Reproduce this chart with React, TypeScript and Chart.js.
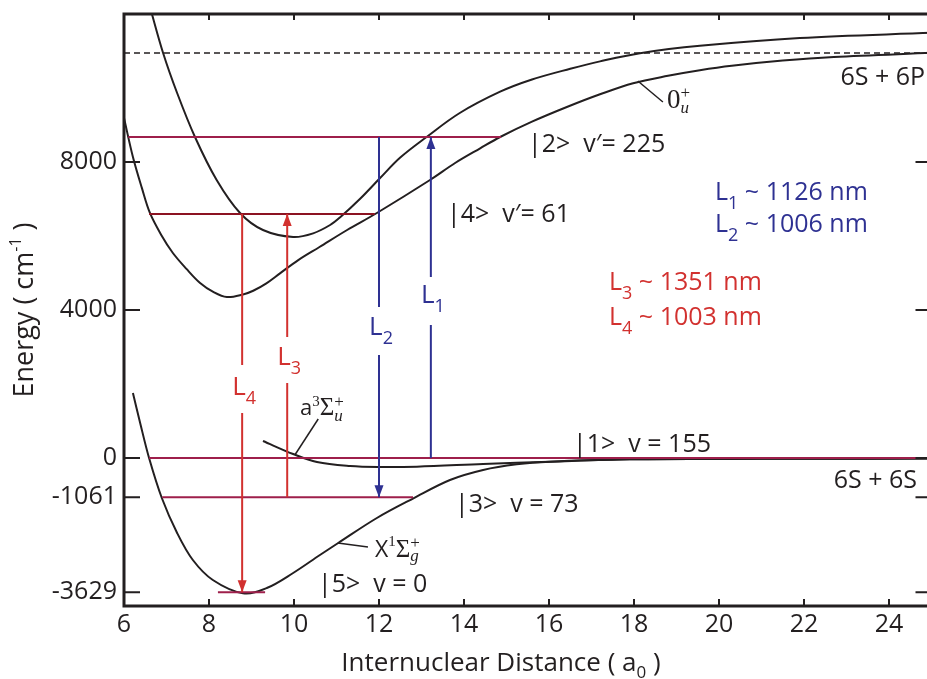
import React, { useEffect, useRef } from "react";
import { Chart, registerables } from "chart.js";

Chart.register(...registerables);

// ---------------- data ----------------
const X_TICKS = [6, 8, 10, 12, 14, 16, 18, 20, 22, 24];
const Y_TICKS = [-3629, -1061, 0, 4000, 8000];
const R_MIN = 6;
const R_MAX = 25;
const E_MIN = -4000;
const E_MAX = 12000;

// X¹Σg+ ground state
const X_STATE_R = [6.21, 6.38, 6.59, 6.89, 7.25, 7.62, 8.09, 8.8, 9.36, 9.98, 10.61, 11.04, 11.95, 12.81, 13.67, 14.45, 15.24, 16.02, 17.9, 20, 22, 25];
const X_STATE_E = [1757, 946, 0, -1081, -2027, -2757, -3297, -3655, -3514, -3108, -2622, -2297, -1622, -1090, -595, -324, -171, -99, -35, -25, -20, -15];

// a³Σu+ state
const A_STATE_R = [9.27, 9.98, 10.54, 11.32, 11.98, 12.89, 14.45, 16.02, 17.9, 20, 22, 25];
const A_STATE_E = [459, 108, -108, -216, -243, -234, -162, -99, -35, -25, -20, -15];

// 0u+ state
const ZERO_U_R = [6.0, 6.21, 6.42, 6.61, 6.88, 7.15, 7.47, 7.79, 8.1, 8.42, 8.8, 9.04, 9.35, 9.67, 10.1, 10.6, 11.25, 11.95, 13.2, 13.8, 14.38, 14.85, 15.6, 16.42, 17.2, 17.98, 18.8, 19.55, 20.3, 21.5, 22.7, 25];
const ZERO_U_E = [9190, 8135, 7300, 6622, 6020, 5540, 5110, 4730, 4490, 4351, 4420, 4520, 4720, 4990, 5350, 5703, 6162, 6622, 7514, 7980, 8370, 8676, 9090, 9486, 9830, 10130, 10330, 10480, 10600, 10740, 10838, 10950];

// upper excited state
const UPPER_R = [6.62, 6.92, 7.25, 7.67, 8.18, 8.73, 9.27, 9.98, 10.45, 10.85, 11.08, 11.55, 12.02, 12.5, 13.12, 13.9, 14.85, 15.6, 16.5, 17.2, 18.14, 19.55, 21.9, 25];
const UPPER_E = [12150, 10946, 9865, 8676, 7514, 6622, 6162, 5973, 6072, 6297, 6500, 7000, 7560, 8120, 8676, 9324, 9900, 10230, 10520, 10720, 10940, 11140, 11351, 11490];

// 6S + 6P asymptote
const ASYMPTOTE_E = 10946;

// vibrational levels
const LEVEL_KETS = ["|2>", "|4>", "|1>", "|3>", "|5>"];
const LEVEL_VIB = ["v′= 225", "v′= 61", "v = 155", "v = 73", "v = 0"];
const LEVEL_E = [8676, 6595, 0, -1061, -3629];
const LEVEL_R_START = [6.1, 6.59, 6.59, 6.9, 8.21];
const LEVEL_R_END = [14.87, 11.9, 25, 12.8, 9.32];

// laser transitions
const LASER_NAMES = ["1", "2", "3", "4"];
const LASER_NM = [1126, 1006, 1351, 1003];
const LASER_R = [13.22, 12.0, 9.84, 8.78];
const LASER_FROM = [0, 8676, -1061, 6595];
const LASER_TO = [8676, -1061, 6595, -3629];
const LASER_GAP_LOW = [3595, 2784, 2027, 1216];
const LASER_GAP_HIGH = [4892, 4081, 3270, 2514];

// ---------------- label placement (data coordinates) ----------------
const LEVEL_LABEL_R = [15.506, 13.6, 16.565, 13.788, 10.565];
const LEVEL_LABEL_E = [8270, 6378, 162, -1459, -3622];
const LASER_LABEL_E = [4189, 3324, 2514, 1703];
const NM_LABEL_R = [19.906, 19.906, 17.412, 17.412];
const NM_LABEL_E = [6973, 6108, 4541, 3595];

// leader lines for state names: [r0, e0, r1, e1]
const LEADER_A = [10.02, 81, 10.57, 1054];
const LEADER_X = [11.03, -2297, 11.74, -2405];
const LEADER_0U = [18.09, 10190, 18.68, 9622];

// ---------------- styles ----------------
const BLACK = "#231f20";
const BLUE = "#2e3192";
const RED = "#d2312f";
const LEVEL_COLORS = ["#9e1f4b", "#8c1322", "#9e1f4b", "#9e1f4b", "#9e1f4b"];
const LASER_COLORS = [BLUE, BLUE, RED, RED];
const SANS = "'Open Sans', 'Noto Sans', sans-serif";
const SERIF = "'Liberation Serif', 'DejaVu Serif', serif";

const pts = (rs: number[], es: number[]) => rs.map((r, i) => ({ x: r, y: es[i] }));

type Run = { t?: string; f: string; dy?: number; sup?: string; sub?: string; sf?: string; supDy?: number; subDy?: number };

function drawRich(ctx: CanvasRenderingContext2D, x: number, y: number, runs: Run[], align: "left" | "center" | "right", color: string) {
  const widths = runs.map((r) => {
    if (r.sup !== undefined || r.sub !== undefined) {
      ctx.font = r.sf || r.f;
      const a = r.sup ? ctx.measureText(r.sup).width : 0;
      ctx.font = r.f;
      const b = r.sub ? ctx.measureText(r.sub).width : 0;
      return Math.max(a, b);
    }
    ctx.font = r.f;
    return ctx.measureText(r.t || "").width;
  });
  const total = widths.reduce((s, w) => s + w, 0);
  let cx = align === "left" ? x : align === "center" ? x - total / 2 : x - total;
  ctx.fillStyle = color;
  ctx.textAlign = "left";
  ctx.textBaseline = "alphabetic";
  runs.forEach((r, i) => {
    if (r.sup !== undefined || r.sub !== undefined) {
      if (r.sup) {
        ctx.font = r.sf || r.f;
        ctx.fillText(r.sup, cx, y + (r.supDy ?? -9));
      }
      if (r.sub) {
        ctx.font = r.f;
        ctx.fillText(r.sub, cx, y + (r.subDy ?? 7));
      }
    } else {
      ctx.font = r.f;
      ctx.fillText(r.t || "", cx, y + (r.dy || 0));
    }
    cx += widths[i];
  });
}

const overlayPlugin = {
  id: "overlay",
  afterDatasetsDraw(chart: any) {
    const { ctx, chartArea: ca } = chart;
    const xs = chart.scales.x;
    const ys = chart.scales.y;
    const px = (v: number) => xs.getPixelForValue(v);
    const py = (v: number) => ys.getPixelForValue(v);
    ctx.save();

    // arrowheads
    LASER_R.forEach((r, i) => {
      const tx = px(r);
      const ty = py(LASER_TO[i]);
      const dir = LASER_TO[i] > LASER_FROM[i] ? 1 : -1;
      const len = 12;
      const hw = 4.5;
      ctx.fillStyle = LASER_COLORS[i];
      ctx.beginPath();
      ctx.moveTo(tx, ty);
      ctx.lineTo(tx - hw, ty + dir * len);
      ctx.lineTo(tx + hw, ty + dir * len);
      ctx.closePath();
      ctx.fill();
    });

    // frame
    ctx.strokeStyle = BLACK;
    ctx.lineWidth = 3;
    ctx.strokeRect(ca.left, ca.top, ca.right - ca.left, ca.bottom - ca.top);

    // inward ticks
    ctx.lineWidth = 2;
    ctx.beginPath();
    X_TICKS.forEach((v) => {
      const x = px(v);
      ctx.moveTo(x, ca.bottom);
      ctx.lineTo(x, ca.bottom - 7);
      ctx.moveTo(x, ca.top);
      ctx.lineTo(x, ca.top + 6);
    });
    Y_TICKS.forEach((v) => {
      const y = py(v);
      ctx.moveTo(ca.left, y);
      ctx.lineTo(ca.left + 16, y);
      ctx.moveTo(ca.right, y);
      ctx.lineTo(ca.right - 16, y);
    });
    ctx.stroke();

    const F = (s: number, fam = SANS, style = "") => `${style}${s}px ${fam}`;

    // level labels
    LEVEL_KETS.forEach((k, i) => {
      drawRich(ctx, px(LEVEL_LABEL_R[i]), py(LEVEL_LABEL_E[i]), [{ t: `${k}  ${LEVEL_VIB[i]}`, f: F(25) }], "left", BLACK);
    });

    // asymptote labels
    drawRich(ctx, px(24.847), py(10081), [{ t: "6S + 6P", f: F(25) }], "right", BLACK);
    drawRich(ctx, px(24.659), py(-811), [{ t: "6S + 6S", f: F(25) }], "right", BLACK);

    // laser labels on arrows
    LASER_NAMES.forEach((n, i) => {
      drawRich(ctx, px(LASER_R[i]) + 2, py(LASER_LABEL_E[i]), [{ t: "L", f: F(26) }, { t: n, f: F(18), dy: 9 }], "center", LASER_COLORS[i]);
    });

    // wavelength legend
    LASER_NAMES.forEach((n, i) => {
      drawRich(ctx, px(NM_LABEL_R[i]), py(NM_LABEL_E[i]), [
        { t: "L", f: F(25) },
        { t: n, f: F(18), dy: 9 },
        { t: ` ~ ${LASER_NM[i]} nm`, f: F(25) },
      ], "left", LASER_COLORS[i]);
    });

    // state names
    drawRich(ctx, px(10.141), py(1162), [
      { t: "a", f: F(22) },
      { sup: "3", f: F(15, SERIF), sf: F(15, SERIF), supDy: -9 },
      { t: "Σ", f: F(25, SERIF) },
      { sup: "+", sub: "u", sf: F(17, SERIF), f: F(17, SERIF, "italic "), supDy: -8, subDy: 6 },
    ], "left", BLACK);
    drawRich(ctx, px(11.906), py(-2676), [
      { t: "X", f: F(23) },
      { sup: "1", f: F(15, SERIF), sf: F(15, SERIF), supDy: -11 },
      { t: "Σ", f: F(25, SERIF) },
      { sup: "+", sub: "g", sf: F(17, SERIF), f: F(17, SERIF, "italic "), supDy: -9, subDy: 4 },
    ], "left", BLACK);
    drawRich(ctx, px(18.776), py(9459), [
      { t: "0", f: F(27, SERIF) },
      { sup: "+", sub: "u", sf: F(17, SERIF), f: F(17, SERIF, "italic "), supDy: -10, subDy: 5 },
    ], "left", BLACK);

    // axis titles
    ctx.save();
    ctx.translate(33, (ca.top + ca.bottom) / 2);
    ctx.rotate(-Math.PI / 2);
    drawRich(ctx, 0, 0, [
      { t: "Energy ( cm", f: F(27) },
      { t: "-1", f: F(16), dy: -12 },
      { t: " )", f: F(27) },
    ], "center", BLACK);
    ctx.restore();
    drawRich(ctx, 501, 671, [
      { t: "Internuclear Distance ( a", f: F(26) },
      { t: "0", f: F(17), dy: 7 },
      { t: " )", f: F(26) },
    ], "center", BLACK);

    ctx.restore();
  },
};

export default function App() {
  const ref = useRef<HTMLCanvasElement | null>(null);

  useEffect(() => {
    const canvas = ref.current;
    if (!canvas) return;

    const line = (data: any[], color: string, width: number, extra: any = {}) => ({
      data,
      showLine: true,
      borderColor: color,
      backgroundColor: color,
      borderWidth: width,
      pointRadius: 0,
      pointHoverRadius: 0,
      fill: false,
      spanGaps: false,
      ...extra,
    });

    const laserSets = LASER_R.map((r, i) => {
      const up = LASER_TO[i] > LASER_FROM[i];
      const es = up
        ? [LASER_FROM[i], LASER_GAP_LOW[i], null, LASER_GAP_HIGH[i], LASER_TO[i]]
        : [LASER_FROM[i], LASER_GAP_HIGH[i], null, LASER_GAP_LOW[i], LASER_TO[i]];
      return line(es.map((e) => ({ x: r, y: e })), LASER_COLORS[i], 2, { label: `L${LASER_NAMES[i]}` });
    });

    const levelSets = LEVEL_E.map((e, i) =>
      line([{ x: LEVEL_R_START[i], y: e }, { x: LEVEL_R_END[i], y: e }], LEVEL_COLORS[i], 2, { label: LEVEL_KETS[i] })
    );

    const curve = (rs: number[], es: number[], label: string) =>
      line(pts(rs, es), BLACK, 2, { label, tension: 0.35 });

    const leader = (l: number[], label: string) =>
      line([{ x: l[0], y: l[1] }, { x: l[2], y: l[3] }], BLACK, 1.5, { label });

    const chart = new Chart(canvas, {
      type: "scatter",
      data: {
        datasets: [
          ...laserSets,
          ...levelSets,
          curve(X_STATE_R, X_STATE_E, "X1Σg+"),
          curve(A_STATE_R, A_STATE_E, "a3Σu+"),
          curve(ZERO_U_R, ZERO_U_E, "0u+"),
          curve(UPPER_R, UPPER_E, "upper"),
          line([{ x: R_MIN, y: ASYMPTOTE_E }, { x: R_MAX, y: ASYMPTOTE_E }], BLACK, 1.5, { label: "6S+6P", borderDash: [6, 4] }),
          leader(LEADER_A, "leaderA"),
          leader(LEADER_X, "leaderX"),
          leader(LEADER_0U, "leader0u"),
        ] as any,
      },
      options: {
        animation: false,
        responsive: false,
        devicePixelRatio: 1,
        events: [],
        layout: { padding: { left: 0, top: 14, right: 8.5, bottom: 0 } },
        plugins: {
          legend: { display: false },
          tooltip: { enabled: false },
          title: { display: false },
        },
        scales: {
          x: {
            type: "linear",
            min: R_MIN,
            max: R_MAX,
            grid: { display: false, drawTicks: false },
            border: { display: false },
            afterBuildTicks: (s: any) => {
              s.ticks = X_TICKS.map((v) => ({ value: v }));
            },
            afterFit: (s: any) => {
              s.height = 73;
              s.paddingLeft = 0;
              s.paddingRight = 0;
            },
            ticks: {
              autoSkip: false,
              maxRotation: 0,
              padding: 4,
              color: BLACK,
              font: { family: SANS, size: 25 },
              callback: (v: any) => String(v),
            },
          },
          y: {
            type: "linear",
            min: E_MIN,
            max: E_MAX,
            grid: { display: false, drawTicks: false },
            border: { display: false },
            afterBuildTicks: (s: any) => {
              s.ticks = Y_TICKS.map((v) => ({ value: v }));
            },
            afterFit: (s: any) => {
              s.width = 124;
              s.paddingTop = 0;
              s.paddingBottom = 0;
            },
            ticks: {
              autoSkip: false,
              padding: 7,
              color: BLACK,
              font: { family: SANS, size: 25 },
              callback: (v: any) => String(v),
            },
          },
        },
      },
      plugins: [overlayPlugin],
    });

    return () => chart.destroy();
  }, []);

  return (
    <div style={{ position: "absolute", left: 0, top: 0, width: 927, height: 679, overflow: "hidden", background: "#fff" }}>
      <canvas ref={ref} width={940} height={679} style={{ position: "absolute", left: 0, top: 0, width: 940, height: 679 }} />
    </div>
  );
}
